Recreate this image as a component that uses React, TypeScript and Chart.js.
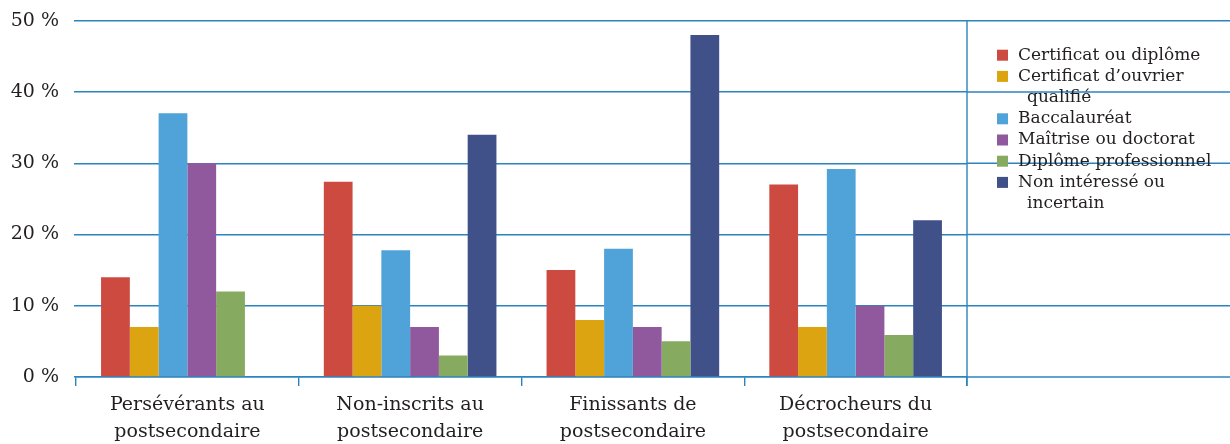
import React, { useEffect, useRef } from "react";
import { Chart, registerables } from "chart.js";

Chart.register(...registerables);

const CATEGORIES: string[][] = [
  ["Persévérants au", "postsecondaire"],
  ["Non-inscrits au", "postsecondaire"],
  ["Finissants de", "postsecondaire"],
  ["Décrocheurs du", "postsecondaire"],
];

const SERIES_NAMES: string[][] = [
  ["Certificat ou diplôme"],
  ["Certificat d’ouvrier", "qualifié"],
  ["Baccalauréat"],
  ["Maîtrise ou doctorat"],
  ["Diplôme professionnel"],
  ["Non intéressé ou", "incertain"],
];

const CERTIFICAT = [14, 27.4, 15, 27];
const OUVRIER = [7, 10, 8, 7];
const BACCALAUREAT = [37, 17.8, 18, 29.2];
const MAITRISE = [30, 7, 7, 10];
const PROFESSIONNEL = [12, 3, 5, 5.9];
const NON_INTERESSE = [0, 34, 48, 22];

const Y_TICKS = [0, 10, 20, 30, 40, 50];

const COLORS = ["#CD4A40", "#DBA410", "#50A3D8", "#90589D", "#86AB60", "#40518A"];
const GRID = "#2C84BE";
const TEXT = "#231F20";
const FONT = "'DejaVu Serif', serif";
const TARGET_TOP = 20.7;

const extrasPlugin = {
  id: "extras",
  afterDraw(chart: any) {
    const ctx = chart.ctx;
    const { right, top, bottom } = chart.chartArea;
    const y = chart.scales.y;
    const W = chart.width;
    ctx.save();
    ctx.strokeStyle = GRID;
    ctx.lineWidth = 1.4;
    Y_TICKS.forEach((v) => {
      const py = y.getPixelForValue(v);
      ctx.beginPath();
      ctx.moveTo(right, py);
      ctx.lineTo(W, py);
      ctx.stroke();
    });
    ctx.beginPath();
    ctx.moveTo(right, top);
    ctx.lineTo(right, bottom + 9);
    ctx.stroke();

    const sq = 11;
    const sqX = right + 30;
    const txtX = right + 51;
    let cy = top + 34.5;
    const lh = 21.2;
    ctx.font = `17px ${FONT}`;
    ctx.textBaseline = "middle";
    ctx.textAlign = "left";
    SERIES_NAMES.forEach((lines, i) => {
      ctx.fillStyle = COLORS[i];
      ctx.fillRect(sqX, cy - sq / 2, sq, sq);
      ctx.fillStyle = TEXT;
      lines.forEach((ln, j) => {
        ctx.fillText(ln, txtX + (j > 0 ? 9 : 0), cy);
        cy += lh;
      });
    });
    ctx.restore();
  },
};

export default function App() {
  const ref = useRef<HTMLCanvasElement | null>(null);
  useEffect(() => {
    document.body.style.margin = "0";
    const series = [CERTIFICAT, OUVRIER, BACCALAUREAT, MAITRISE, PROFESSIONNEL, NON_INTERESSE];
    const chart: any = new Chart(ref.current as HTMLCanvasElement, {
      type: "bar",
      data: {
        labels: CATEGORIES,
        datasets: series.map((d, i) => ({
          label: SERIES_NAMES[i].join(" "),
          data: d,
          backgroundColor: COLORS[i],
          borderWidth: 0,
          categoryPercentage: 0.775,
          barPercentage: 1,
        })),
      },
      options: {
        responsive: false,
        animation: false,
        layout: { padding: { top: TARGET_TOP, right: 263, left: 0, bottom: 0 } },
        plugins: { legend: { display: false }, tooltip: { enabled: false } },
        scales: {
          x: {
            offset: true,
            grid: {
              offset: true,
              drawOnChartArea: false,
              drawTicks: true,
              tickLength: 9,
              color: GRID,
              lineWidth: 1.4,
            },
            border: { display: true, color: GRID, width: 1.4 },
            ticks: {
              color: TEXT,
              font: { family: FONT, size: 19, lineHeight: 1.4 },
              padding: 6,
              maxRotation: 0,
              autoSkip: false,
            },
            afterFit(scale: any) {
              scale.height = 67;
              scale.paddingLeft = 0;
              scale.paddingRight = 0;
            },
          },
          y: {
            min: 0,
            max: 50,
            grid: { color: GRID, lineWidth: 1.4, tickLength: 2 },
            border: { display: false },
            ticks: {
              stepSize: 10,
              color: TEXT,
              padding: 15,
              font: { family: FONT, size: 19 },
              callback: (v: any) => `${v}\u00a0%`,
            },
            afterFit(scale: any) {
              scale.width = 76;
              scale.paddingTop = 0;
              scale.paddingBottom = 0;
            },
          },
        },
      },
      plugins: [extrasPlugin],
    } as any);
    for (let k = 0; k < 3; k++) {
      const delta = TARGET_TOP - chart.chartArea.top;
      if (Math.abs(delta) < 0.2) break;
      const pad = chart.config.options.layout.padding;
      pad.top = Math.max(0, pad.top + delta);
      chart.update();
    }
    return () => chart.destroy();
  }, []);
  return (
    <div style={{ width: 1230, height: 444, position: "relative" }}>
      <canvas ref={ref} width={1230} height={444} />
    </div>
  );
}
